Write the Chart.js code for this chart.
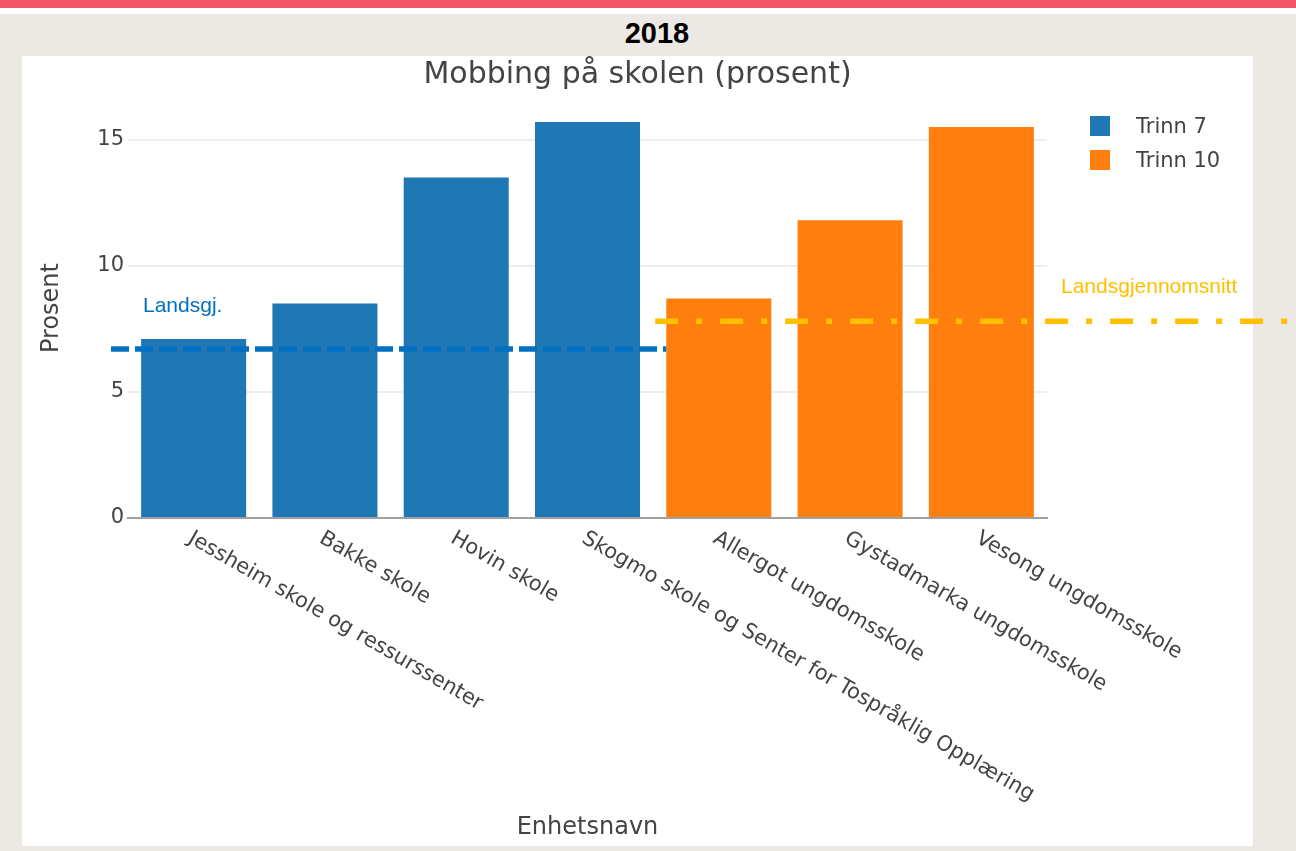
<!DOCTYPE html>
<html>
<head>
<meta charset="utf-8">
<script src="https://cdn.jsdelivr.net/npm/chart.js@4.4.1/dist/chart.umd.min.js"></script>
<style>
body{margin:0;background:#ece9e4;width:1296px;height:851px;overflow:hidden;position:relative;font-family:"Liberation Sans",Arial,sans-serif}
#topbar{position:absolute;left:0;top:0;width:1296px;height:8px;background:#f25666}
#gap{position:absolute;left:0;top:8px;width:1296px;height:6px;background:#fff}
#year{position:absolute;left:0;top:14px;width:1314px;text-align:center;font-weight:bold;font-size:29px;line-height:38px;color:#000}
#panel{position:absolute;left:22px;top:56px;width:1231px;height:790px;background:#fff}
#wrap{position:absolute;left:22px;top:56px;width:1274px;height:790px}
</style>
</head>
<body>
<div id="topbar"></div>
<div id="gap"></div>
<div id="year">2018</div>
<div id="panel"></div>
<div id="wrap"><canvas id="chart"></canvas></div>
<script>
// ---------------- data ----------------
let schools=["Jessheim skole og ressurssenter","Bakke skole","Hovin skole","Skogmo skole og Senter for Tospråklig Opplæring","Allergot ungdomsskole","Gystadmarka ungdomsskole","Vesong ungdomsskole"]
let trinn7=[7.1,8.5,13.5,15.7,null,null,null]
let trinn10=[null,null,null,null,8.7,11.8,15.5]
let seriesNames=["Trinn 7","Trinn 10"]
let yTicks=[0,5,10,15]
let landsgj7=6.7
let landsgj10=7.8
let chartTitle="Mobbing på skolen (prosent)"

const blue='#1f77b4', orange='#ff7f0e'
const panelW=1231
const fam='"DejaVu Sans", Verdana, sans-serif'

// draws title, legend, rotated labels, axis titles and the average lines
const extras={
  id:'extras',
  afterDraw(chart){
    const ctx=chart.ctx, x=chart.scales.x, y=chart.scales.y, a=chart.chartArea
    const step=x.getPixelForValue(1)-x.getPixelForValue(0)
    ctx.save()

    ctx.fillStyle='#444'
    ctx.font='30px '+fam
    ctx.textAlign='center'; ctx.textBaseline='middle'
    ctx.fillText(chartTitle,panelW/2,19)

    // x labels at 30 degrees
    ctx.font='21px '+fam
    ctx.textAlign='left'
    schools.forEach((s,i)=>{
      ctx.save()
      ctx.translate(x.getPixelForValue(i)-4,a.bottom+19)
      ctx.rotate(Math.PI/6)
      ctx.fillText(s,0,0)
      ctx.restore()
    })

    // axis titles
    ctx.font='24px '+fam
    ctx.textAlign='center'
    ctx.fillText("Enhetsnavn",(a.left+a.right)/2,772)
    ctx.save()
    ctx.translate(30,252)
    ctx.rotate(-Math.PI/2)
    ctx.fillText("Prosent",0,0)
    ctx.restore()

    // legend
    ctx.font='21px '+fam
    const cols=[blue,orange]
    seriesNames.forEach((n,i)=>{
      const lx=a.right+43, ly=a.top+15+i*34
      ctx.fillStyle=cols[i]
      ctx.fillRect(lx,ly,20,20)
      ctx.fillStyle='#444'
      ctx.textAlign='left'
      ctx.fillText(n,lx+46,ly+12)
    })

    // national average lines
    const y7=y.getPixelForValue(landsgj7)
    const y10=y.getPixelForValue(landsgj10)
    ctx.lineWidth=5.5
    ctx.strokeStyle='#0070c0'
    ctx.setLineDash([18,6])
    ctx.beginPath()
    ctx.moveTo(a.left-17,y7)
    ctx.lineTo(x.getPixelForValue(4)-0.4*step,y7)
    ctx.stroke()

    ctx.strokeStyle='#ffc000'
    ctx.setLineDash([23,18,6,18])
    ctx.beginPath()
    ctx.moveTo(x.getPixelForValue(3)+step/2+2,y10)
    ctx.lineTo(chart.width,y10)
    ctx.stroke()
    ctx.setLineDash([])

    ctx.font='21px "Liberation Sans", Arial'
    ctx.textAlign='left'
    ctx.fillStyle='#0070c0'
    ctx.fillText("Landsgj.",a.left+15,y7-43)
    ctx.fillStyle='#ffc000'
    ctx.fillText("Landsgjennomsnitt",a.right+14,y10-34)

    ctx.restore()
  }
}

const ctx=document.getElementById('chart').getContext('2d')
const myBarChart=new Chart(ctx,{
  type:'bar',
  data:{
    labels:schools,
    datasets:[{
      label:seriesNames[0],
      data:trinn7,
      backgroundColor:blue,
      grouped:false,
      barPercentage:0.8,
      categoryPercentage:1
    },{
      label:seriesNames[1],
      data:trinn10,
      backgroundColor:orange,
      grouped:false,
      barPercentage:0.8,
      categoryPercentage:1
    }]
  },
  options:{
    responsive:true,
    maintainAspectRatio:false,
    animation:false,
    layout:{padding:{left:46,right:249,top:45,bottom:328}},
    plugins:{legend:{display:false},title:{display:false},tooltip:{enabled:false}},
    scales:{
      x:{
        grid:{display:false},
        border:{color:'#a0a0a0',width:2},
        ticks:{display:false},
        afterFit(s){s.height=0}
      },
      y:{
        min:0,
        max:16.53,
        afterBuildTicks(s){s.ticks=yTicks.map(v=>({value:v}))},
        afterFit(s){s.width=60},
        grid:{color:'#eeeeee',lineWidth:2,drawTicks:false},
        border:{display:false},
        ticks:{font:{family:fam,size:21},color:'#444',padding:4}
      }
    }
  },
  plugins:[extras]
})
</script>
</body>
</html>
